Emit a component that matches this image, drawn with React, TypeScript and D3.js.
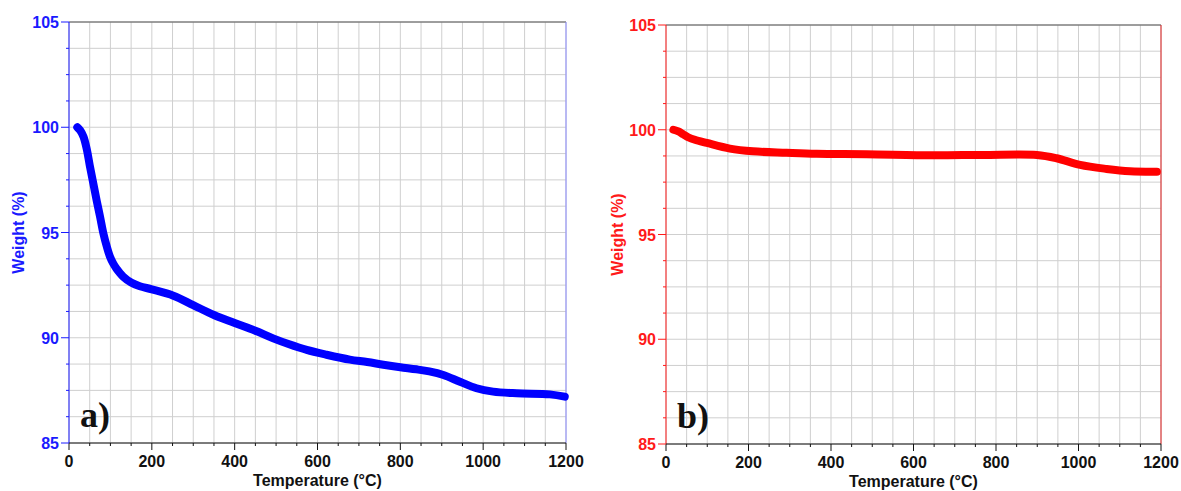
import React from "react";
import * as d3 from "d3";

// ---- data ----
const tempsA = [20, 27, 35, 43, 50, 58, 67, 75, 83, 91, 99, 107, 115, 123, 131, 150, 171, 200, 252, 300, 350, 400, 450, 493, 530, 574, 620, 678, 720, 759, 800, 839, 870, 904, 944, 984, 1024, 1081, 1161, 1197];
const weightA = [100.0, 99.85, 99.55, 98.95, 98.2, 97.4, 96.5, 95.75, 94.96, 94.35, 93.85, 93.52, 93.27, 93.07, 92.9, 92.62, 92.45, 92.3, 92.0, 91.55, 91.08, 90.7, 90.33, 89.97, 89.7, 89.42, 89.2, 88.96, 88.85, 88.72, 88.6, 88.5, 88.4, 88.23, 87.91, 87.6, 87.44, 87.36, 87.31, 87.2];

const tempsB = [18, 30, 42, 55, 70, 99, 155, 211, 292, 365, 486, 647, 769, 899, 947, 1004, 1068, 1125, 1190];
const weightB = [100.0, 99.92, 99.78, 99.63, 99.52, 99.37, 99.1, 98.97, 98.9, 98.85, 98.83, 98.78, 98.8, 98.8, 98.64, 98.32, 98.13, 98.02, 98.0];

const xMajorTicks = [0, 200, 400, 600, 800, 1000, 1200];
const yMajorTicks = [85, 90, 95, 100, 105];
const xTitle = "Temperature (°C)";
const yTitle = "Weight (%)";

type PanelProps = {
  x0: number; x1: number; y0: number; y1: number;
  temps: number[]; weights: number[];
  color: string; tickColor: string; rightColor: string;
  letter: string; yTitleX: number;
};

function Panel(p: PanelProps) {
  const x = d3.scaleLinear().domain([0, 1200]).range([p.x0, p.x1]);
  const y = d3.scaleLinear().domain([85, 105]).range([p.y1, p.y0]);
  const xMinor = d3.range(0, 1201, 50);
  const yMinor = d3.range(0, 17).map((i) => 85 + i * 1.25);
  const pts = p.temps.map((t, i) => [t, p.weights[i]] as [number, number]);
  const line = d3.line<[number, number]>().x((d) => x(d[0])).y((d) => y(d[1])).curve(d3.curveCatmullRom.alpha(0.5));
  const font = "'Liberation Sans', Arial, sans-serif";
  return (
    <g>
      {/* grid */}
      {xMinor.map((v) => (
        <line key={"gx" + v} x1={x(v)} x2={x(v)} y1={p.y0} y2={p.y1} stroke="#cfcfcf" strokeWidth={1} />
      ))}
      {yMinor.map((v) => (
        <line key={"gy" + v} x1={p.x0} x2={p.x1} y1={y(v)} y2={y(v)} stroke="#cfcfcf" strokeWidth={1} />
      ))}
      {/* borders */}
      <line x1={p.x0} x2={p.x1} y1={p.y0} y2={p.y0} stroke="#555" strokeWidth={1} />
      <line x1={p.x1} x2={p.x1} y1={p.y0} y2={p.y1} stroke={p.rightColor} strokeWidth={1} />
      <line x1={p.x0} x2={p.x0} y1={p.y0} y2={p.y1} stroke={p.tickColor} strokeWidth={1} />
      <line x1={p.x0} x2={p.x1} y1={p.y1} y2={p.y1} stroke="#111" strokeWidth={1} />
      {/* x ticks */}
      {xMinor.map((v) => (
        <line key={"tx" + v} x1={x(v)} x2={x(v)} y1={p.y1} y2={p.y1 + (v % 200 === 0 ? 7 : 3)} stroke="#111" strokeWidth={1} />
      ))}
      {xMajorTicks.map((v) => (
        <text key={"lx" + v} x={x(v)} y={p.y1 + 24} textAnchor="middle" fontFamily={font} fontWeight="bold" fontSize={16} fill="#111">{v}</text>
      ))}
      {/* y ticks */}
      {yMinor.map((v, i) => (
        <line key={"ty" + i} x1={p.x0 - (i % 4 === 0 ? 8 : 3)} x2={p.x0} y1={y(v)} y2={y(v)} stroke={p.tickColor} strokeWidth={1} />
      ))}
      {yMajorTicks.map((v) => (
        <text key={"ly" + v} x={p.x0 - 10} y={y(v) + 6} textAnchor="end" fontFamily={font} fontWeight="bold" fontSize={16} fill={p.tickColor}>{v}</text>
      ))}
      {/* titles */}
      <text x={(p.x0 + p.x1) / 2} y={p.y1 + 43} textAnchor="middle" fontFamily={font} fontWeight="bold" fontSize={16} fill="#111">{xTitle}</text>
      <text transform={`translate(${p.yTitleX},${(p.y0 + p.y1) / 2}) rotate(-90)`} textAnchor="middle" dy="0.35em" fontFamily={font} fontWeight="bold" fontSize={16} fill={p.tickColor}>{yTitle}</text>
      {/* data */}
      <path d={line(pts) || ""} fill="none" stroke={p.color} strokeWidth={8} strokeLinecap="round" strokeLinejoin="round" />
      {/* panel letter */}
      <text x={p.x0 + 11} y={p.y1 - 16} fontFamily="'Liberation Serif', 'Times New Roman', serif" fontWeight="bold" fontSize={36} fill="#111">{p.letter}</text>
    </g>
  );
}

export default function App() {
  return (
    <svg width={1181} height={491} style={{ position: "absolute", left: 0, top: 0, background: "#fff" }}>
      <rect width={1181} height={491} fill="#fff" />
      <Panel x0={69} x1={566} y0={22} y1={443} temps={tempsA} weights={weightA} color="#0000ff" tickColor="#1a1aff" rightColor="#8a8aff" letter="a)" yTitleX={18} />
      <Panel x0={666} x1={1161} y0={25} y1={444} temps={tempsB} weights={weightB} color="#ff0000" tickColor="#ff1a1a" rightColor="#e02020" letter="b)" yTitleX={617} />
    </svg>
  );
}
